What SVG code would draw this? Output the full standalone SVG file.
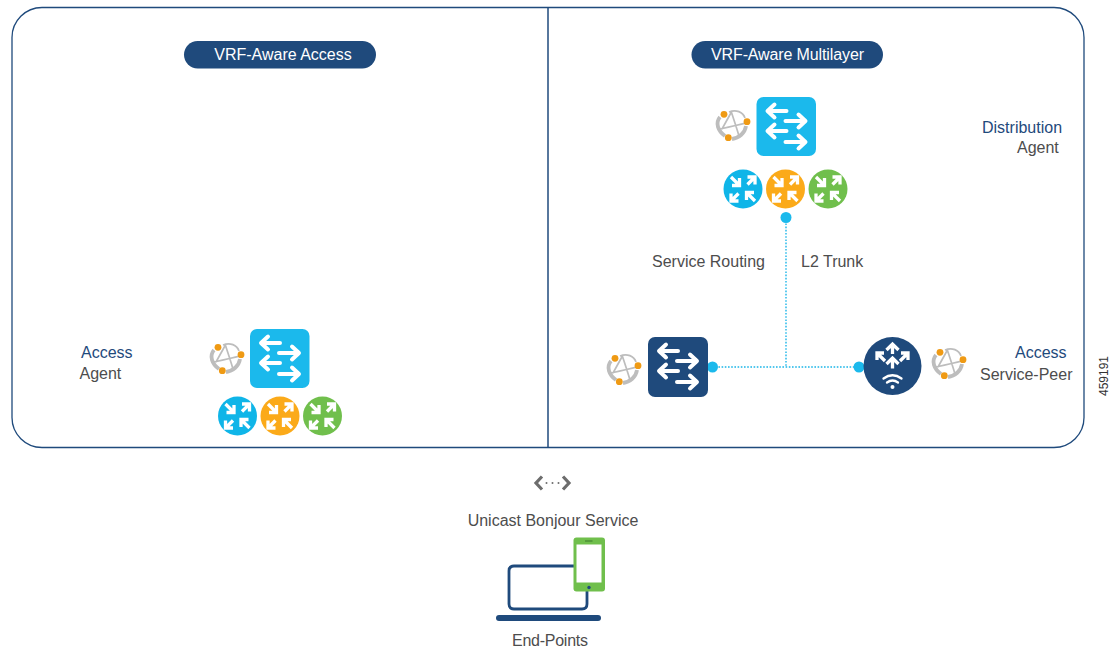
<svg xmlns="http://www.w3.org/2000/svg" width="1118" height="650" viewBox="0 0 1118 650">
<style>
text{font-family:"Liberation Sans",Arial,sans-serif;font-size:16px;fill:#4d4d4d}
.b{fill:#1f4a7c}
.w{fill:#fff;font-size:16px}
.a{fill:none;stroke:#fff;stroke-width:3.300;stroke-linecap:butt;stroke-linejoin:miter}
.c{fill:none;stroke:#fff;stroke-width:3.300;stroke-linecap:butt;stroke-linejoin:miter}
.ar{fill:none;stroke:#fff;stroke-width:4;stroke-linecap:round;stroke-linejoin:round}
.conn{fill:none;stroke:#1ab5e8;stroke-width:1.400;stroke-dasharray:1.600 1.600}
.dot{fill:#1bb9ec}
</style>
<defs>
<g id="arrows">
<path class="ar" d="M30 14H11.500M18 7.500L11 14L18 20.500M29 24H48.500M42 17.500L49 24L42 30.500M30 34H11.500M18 27.500L11 34L18 40.500M29 45H48.500M42 38.500L49 45L42 51.500"/>
</g>
<g id="swL"><rect width="59.500" height="59" rx="7" fill="#1bb9ec"/><use href="#arrows"/></g>
<g id="swD"><rect width="60" height="60" rx="7" fill="#1f4a7c"/><use href="#arrows"/></g>
<g id="cross">
<path class="c" d="M-12-12L-4.500-4.500M-3.500-11V-3.500H-11M4.500-4.500L12-12M4.500-12H12V-4.500M-4.500 4.500L-12 12M-12 4.500V12H-4.500M4.500 4.500L12 12M3.500 11V3.500H11"/>
</g>
<g id="agent">
<path d="M-13-8C-18-2-15 6-8 11M13 1C12 8 6 13-1 14" fill="none" stroke="#bdbdbd" stroke-width="3.800"/>
<path d="M-4-13C3-16 10-13 12-7M-1-14L-11 4M-2-14C1-5 4 4 6 11M-13 4C-4 2 5 0 13-2" fill="none" stroke="#bdbdbd" stroke-width="1.700"/>
<circle cx="-9" cy="-10.700" r="3.400" fill="#ef9a14"/><circle cx="14" cy="-3.300" r="3.400" fill="#ef9a14"/><circle cx="-4.700" cy="12.700" r="3.400" fill="#ef9a14"/>
</g>
<g id="trio">
<circle cx="-42.500" r="19.500" fill="#0fb5e8"/><use href="#cross" x="-42.500"/>
<circle r="19.500" fill="#fbaa19"/><use href="#cross"/>
<circle cx="42.500" r="19.500" fill="#70bf4c"/><use href="#cross" x="42.500"/>
</g>
</defs>
<rect x="12" y="7.500" width="1072" height="440" rx="30" fill="#fff" stroke="#1f4a7c" stroke-width="1.300"/>
<path d="M548 7.500V447.500" stroke="#1f4a7c" stroke-width="1.500" fill="none"/>
<g id="connectors">
<path class="conn" d="M786 217V367M712 367H859"/>
<circle class="dot" cx="786" cy="217.500" r="5.500"/>
<circle class="dot" cx="712.500" cy="367" r="5.500"/>
<circle class="dot" cx="859" cy="367" r="5.500"/>
</g>
<g id="pill-left"><rect x="184" y="41" width="192" height="27.500" rx="13.700" fill="#1f4a7c"/><text class="w" x="283" y="59.500" text-anchor="middle">VRF-Aware Access</text></g>
<g id="pill-right"><rect x="691.500" y="41" width="191.500" height="27.500" rx="13.700" fill="#1f4a7c"/><text class="w" x="787.500" y="59.500" text-anchor="middle" textLength="153" lengthAdjust="spacing">VRF-Aware Multilayer</text></g>
<g id="access-agent">
<use href="#agent" x="227" y="358"/><use href="#swL" x="250" y="329"/><use href="#trio" x="280" y="416"/>
<text class="b" x="81" y="358">Access</text><text x="79.500" y="379">Agent</text>
</g>
<g id="distribution-agent">
<use href="#agent" x="733" y="125"/><use href="#swL" x="756.500" y="97"/><use href="#trio" x="785.500" y="189"/>
<text class="b" x="982" y="133">Distribution</text><text x="1017" y="153">Agent</text>
</g>
<g id="access-switch"><use href="#agent" x="624" y="369"/><use href="#swD" x="648" y="337"/></g>
<g id="access-ap">
<circle cx="892.500" cy="366" r="29" fill="#1f4a7c"/>
<path class="a" d="M892.500 354V344.500M886.500 350L892.500 344L898.500 350M892.500 368.500V358.500M886.500 364L892.500 358L898.500 364M885 361L877 353M877 360V353H884M900 361L908 353M908 360V353H901"/>
<circle cx="892.500" cy="387" r="2" fill="#fff"/>
<path d="M887 382.500Q892.500 378.500 898 382.500M883.500 378.500Q892.500 372 901.500 378.500" fill="none" stroke="#fff" stroke-width="2.300" stroke-linecap="round"/>
<use href="#agent" x="949" y="363"/>
<text class="b" x="1015" y="358">Access</text><text x="980" y="380">Service-Peer</text>
</g>
<g id="labels">
<text x="652" y="267">Service Routing</text>
<text x="801" y="267">L2 Trunk</text>
<text x="0" y="0" transform="translate(1108,396) rotate(-90)" style="font-size:12px;fill:#333">459191</text>
</g>
<g id="legend">
<path d="M542 476.500L536 483L542 489.500M563 476.500L569 483L563 489.500" fill="none" stroke="#6d6d6d" stroke-width="3.200"/>
<circle cx="546.500" cy="483" r="1" fill="#6d6d6d"/><circle cx="552.500" cy="483" r="1" fill="#6d6d6d"/><circle cx="558.500" cy="483" r="1" fill="#6d6d6d"/>
<text x="553" y="525.500" text-anchor="middle">Unicast Bonjour Service</text>
</g>
<g id="end-points">
<path d="M574 566H514Q509 566 509 571V604Q509 609 514 609H582Q587 609 587 604V590" fill="none" stroke="#1f4a7c" stroke-width="2.800"/>
<rect x="496" y="615" width="105" height="6" rx="3" fill="#1f4a7c"/>
<rect x="573.500" y="537.500" width="31.500" height="54" rx="3" fill="#70bf4c"/>
<rect x="576.500" y="544.500" width="25" height="38" fill="#fff"/>
<path d="M585 541H592.500" stroke="#3c7a2c" stroke-width="1"/>
<circle cx="589" cy="587.500" r="1.700" fill="#1f4a7c"/>
<text x="550" y="645.500" text-anchor="middle" textLength="76" lengthAdjust="spacing">End-Points</text>
</g>
</svg>
